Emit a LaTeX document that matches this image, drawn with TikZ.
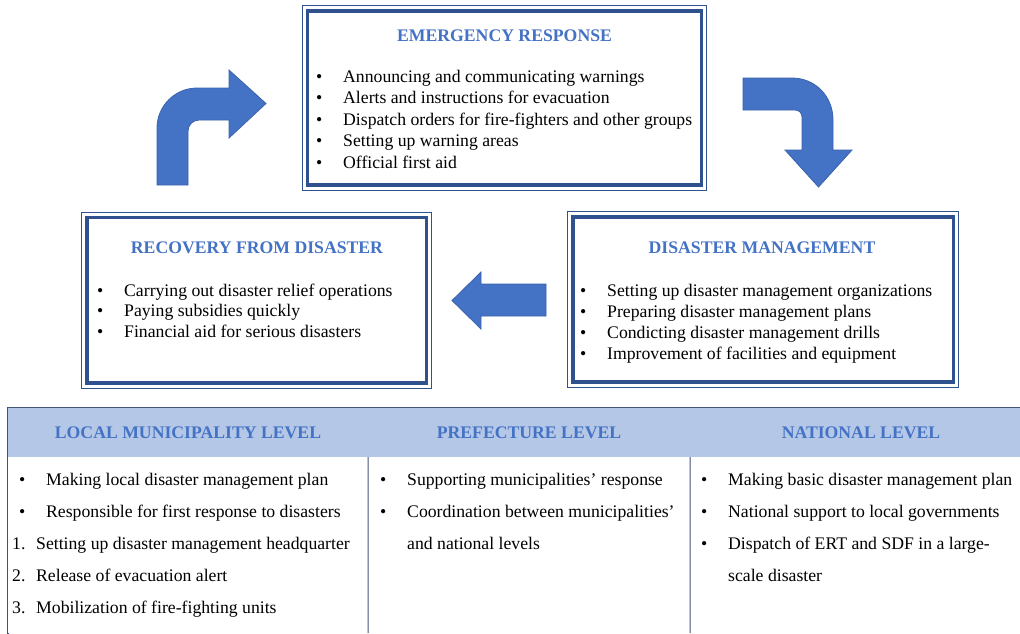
\documentclass[tikz,border=0pt]{standalone}
\usepackage{fontspec}
\setmainfont{Liberation Serif}
\usetikzlibrary{positioning}

\definecolor{framblue}{RGB}{47,82,143}
\definecolor{headblue}{RGB}{68,114,196}
\definecolor{bandblue}{RGB}{180,199,231}
\definecolor{rulegray}{RGB}{68,84,120}
\definecolor{arrowline}{RGB}{58,98,172}

\newcommand{\bul}[1]{\makebox[27pt][l]{\textbullet}#1}
\newcommand{\cont}[1]{\hspace*{27pt}#1}
\newcommand{\numd}[2]{\makebox[24pt][l]{#1.}#2}

\begin{document}
\begin{tikzpicture}[x=1pt,y=-1pt,font=\fontsize{17.7}{21}\selectfont]

  \tikzstyle{frame}=[draw=framblue,line width=3.5pt,fill=white,inner sep=0]
  \tikzstyle{frameout}=[draw=framblue,line width=0.9pt]
  \tikzstyle{title}=[anchor=base,inner sep=0,text=headblue,font=\fontsize{17.7}{21}\selectfont\bfseries]
  \tikzstyle{item}=[anchor=base west,inner sep=0]
  \tikzstyle{head}=[fill=bandblue,inner sep=0,minimum height=49pt,text=headblue,font=\fontsize{17.7}{21}\selectfont\bfseries]
  \tikzstyle{bigarrow}=[fill=headblue,draw=arrowline,line width=0.8pt,line join=miter]

  \useasboundingbox (0,0) rectangle (1020,633);

  \node[frame,minimum width=394pt,minimum height=174pt]   (ER)  at (504.5,98)    {};
  \node[frame,minimum width=339.5pt,minimum height=165.5pt] (REC) at (256.75,300.25) {};
  \node[frame,minimum width=380.5pt,minimum height=165pt] (DM)  at (763.25,299.5) {};

  \foreach \b in {ER,REC,DM}
    \draw[frameout] ([shift={(-3.6pt,3.6pt)}]\b.north west) rectangle ([shift={(3.6pt,-3.6pt)}]\b.south east);

  \node[title] (ERt)  at (504.5,41) {EMERGENCY RESPONSE};
  \node[title] (RECt) at (257,253)  {RECOVERY FROM DISASTER};
  \node[title] (DMt)  at (762,253)  {DISASTER MANAGEMENT};

  \foreach \t [count=\i] in {Announcing and communicating warnings,
                             Alerts and instructions for evacuation,
                             Dispatch orders for fire-fighters and other groups,
                             Setting up warning areas,
                             Official first aid}
    \node[item] (er\i) at (316,{82+21.5*(\i-1)}) {\bul{\t}};

  \foreach \t [count=\i] in {Carrying out disaster relief operations,
                             Paying subsidies quickly,
                             Financial aid for serious disasters}
    \node[item] (rec\i) at (97,{296+20.5*(\i-1)}) {\bul{\t}};

  \foreach \t [count=\i] in {Setting up disaster management organizations,
                             Preparing disaster management plans,
                             Condicting disaster management drills,
                             Improvement of facilities and equipment}
    \node[item] (dm\i) at (580,{296+21.3*(\i-1)}) {\bul{\t}};

  \fill[bigarrow] (157,185) -- (157,128) .. controls (157,106) and (175,88) .. (197,88)
    -- (229,88) -- (229,70) -- (266,103.5) -- (229,138) -- (229,120) -- (199,120)
    .. controls (193,120) and (188,125) .. (188,131) -- (188,185) -- cycle;
  \filldraw[bigarrow] (743,78) -- (792,78) .. controls (815,78) and (833,96) .. (833,120)
    -- (833,150) -- (852,150) -- (818.5,187) -- (785,150) -- (802,150) -- (802,117)
    .. controls (802,113) and (799,110) .. (795,110) -- (743,110) -- cycle;
  \filldraw[bigarrow] (546,284) -- (481,284) -- (481,272) -- (452,300.5) -- (481,329)
    -- (481,316) -- (546,316) -- cycle;

  \node[head,minimum width=360pt] (LOC) at (188,432.5) {LOCAL MUNICIPALITY LEVEL};
  \node[head,minimum width=322pt] (PRE) at (529,432.5) {PREFECTURE LEVEL};
  \node[head,minimum width=330pt] (NAT) at (855,432.5) {\hspace*{12pt}NATIONAL LEVEL};

  \draw[rulegray,line width=1pt] (LOC.south west) |- (8,633);
  \draw[rulegray,line width=1pt] (LOC.south west) -- (LOC.north west) -- (NAT.north east);
  \draw[rulegray,line width=1pt] (LOC.south east) -- (368,633);
  \draw[rulegray,line width=1pt] (PRE.south east) -- (690,633);

  \foreach \t [count=\i] in {\bul{Making local disaster management plan},
                             \bul{Responsible for first response to disasters}}
    \node[item] (loc\i) at (19,{485+32*(\i-1)}) {\t};
  \foreach \t [count=\i from 3] in {\numd{1}{Setting up disaster management headquarter},
                                    \numd{2}{Release of evacuation alert},
                                    \numd{3}{Mobilization of fire-fighting units}}
    \node[item] (loc\i) at (12,{485+32*(\i-1)}) {\t};

  \foreach \t [count=\i] in {\bul{Supporting municipalities’ response},
                             \bul{Coordination between municipalities’},
                             \cont{and national levels}}
    \node[item] (pre\i) at (380,{485+32*(\i-1)}) {\t};

  \foreach \t [count=\i] in {\bul{Making basic disaster management plan},
                             \bul{National support to local governments},
                             \bul{Dispatch of ERT and SDF in a large-},
                             \cont{scale disaster}}
    \node[item] (nat\i) at (701,{485+32*(\i-1)}) {\t};

\end{tikzpicture}
\end{document}
